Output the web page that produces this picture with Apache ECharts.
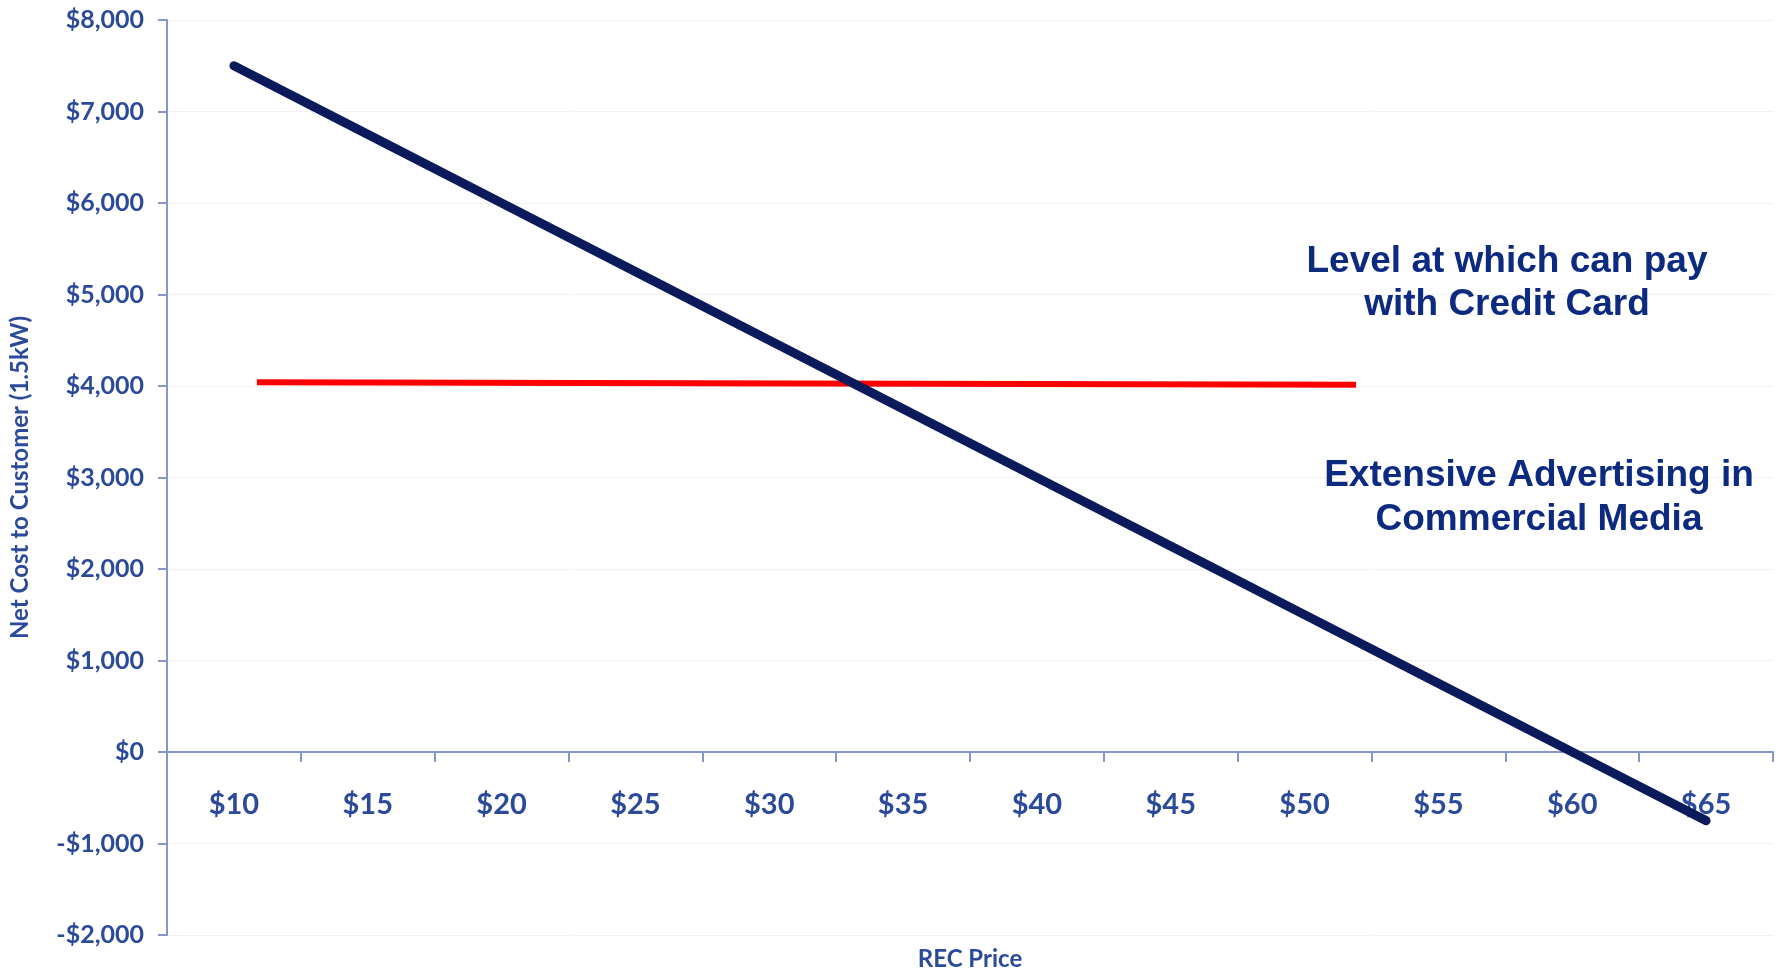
<!DOCTYPE html>
<html>
<head>
<meta charset="utf-8">
<script src="https://cdn.jsdelivr.net/npm/echarts@6/dist/echarts.min.js"></script>
<style>
  html, body { margin: 0; padding: 0; background: #ffffff; }
  #chart { width: 1782px; height: 971px; }
</style>
</head>
<body>
<div id="chart"></div>
<script>
// ---- data ----
const recPrices = ['$10', '$15', '$20', '$25', '$30', '$35', '$40', '$45', '$50', '$55', '$60', '$65'];
const netCost = [7500, 6750, 6000, 5250, 4500, 3750, 3000, 2250, 1500, 750, 0, -750];
// credit-card level line: [REC price, net cost]
const creditCardLevel = [[10.86, 4040], [51.92, 4013]];
const yTicks = { min: -2000, max: 8000, interval: 1000 };
const annotationTop = ['Level at which can pay', 'with Credit Card'];
const annotationBottom = ['Extensive Advertising in', 'Commercial Media'];

const labelBlue = '#2c4a9a';
const axisBlue = '#8796c8';
const textNavy = '#0b2a80';

const GRID_TOP = 20, GRID_BOTTOM = 36, H = 971;

const chart = echarts.init(document.getElementById('chart'), null, { renderer: 'canvas' });

function fmtMoney(v) {
  const s = Math.abs(v).toLocaleString('en-US');
  return (v < 0 ? '-$' : '$') + s;
}

// place the category axis on the zero line (offset from grid bottom, computed from the y range)
const plotH = H - GRID_TOP - GRID_BOTTOM;
const zeroOffset = -plotH * (0 - yTicks.min) / (yTicks.max - yTicks.min);

chart.setOption({
  backgroundColor: '#ffffff',
  animation: false,
  grid: { left: 167, right: 9, top: GRID_TOP, bottom: GRID_BOTTOM, containLabel: false, outerBoundsMode: 'none' },
  xAxis: [
    {
      type: 'category',
      data: recPrices,
      boundaryGap: true,
      position: 'bottom',
      offset: zeroOffset,
      name: 'REC Price',
      nameLocation: 'middle',
      nameGap: 195,
      nameTextStyle: { color: labelBlue, fontFamily: 'Lato', fontWeight: 'bold', fontSize: 24 },
      axisLine: { onZero: false, lineStyle: { color: axisBlue, width: 2 } },
      axisTick: { show: true, interval: 0, length: 10, lineStyle: { color: axisBlue, width: 2 } },
      axisLabel: { interval: 0, margin: 38, color: labelBlue, fontFamily: 'Lato', fontWeight: 'bold', fontSize: 29 },
      splitLine: { show: false }
    },
    {
      type: 'value',
      min: 7.5,
      max: 67.5,
      show: false
    }
  ],
  yAxis: {
    type: 'value',
    min: yTicks.min,
    max: yTicks.max,
    interval: yTicks.interval,
    name: 'Net Cost to Customer (1.5kW)',
    nameLocation: 'middle',
    nameGap: 135,
    nameTextStyle: { color: labelBlue, fontFamily: 'Lato', fontWeight: 'bold', fontSize: 24 },
    axisLine: { show: true, lineStyle: { color: axisBlue, width: 2 } },
    axisTick: { show: true, length: 9, lineStyle: { color: axisBlue, width: 2 } },
    axisLabel: { margin: 23, color: labelBlue, fontFamily: 'Lato', fontWeight: 'bold', fontSize: 25, formatter: fmtMoney },
    splitLine: { show: true, lineStyle: { color: '#f1f1f1', width: 1 } }
  },
  series: [
    {
      type: 'line',
      data: netCost,
      xAxisIndex: 0,
      symbol: 'none',
      lineStyle: { color: '#0a1a5a', width: 9, cap: 'round' },
      z: 3
    },
    {
      type: 'line',
      data: creditCardLevel,
      xAxisIndex: 1,
      symbol: 'none',
      lineStyle: { color: '#ff0000', width: 6 },
      z: 2
    }
  ],
  graphic: [
    {
      type: 'text',
      z: 100,
      left: 1507 - 250, top: 240,
      style: {
        text: annotationTop.join('\n'),
        width: 500,
        align: 'center',
        x: 250,
        textAlign: 'center',
        fill: textNavy,
        font: 'bold 37px "Liberation Sans", Arial, sans-serif',
        lineHeight: 43
      }
    },
    {
      type: 'text',
      z: 100,
      left: 1539 - 250, top: 454,
      style: {
        text: annotationBottom.join('\n'),
        width: 500,
        align: 'center',
        x: 250,
        textAlign: 'center',
        fill: textNavy,
        font: 'bold 37px "Liberation Sans", Arial, sans-serif',
        lineHeight: 44
      }
    }
  ]
});
</script>
</body>
</html>
